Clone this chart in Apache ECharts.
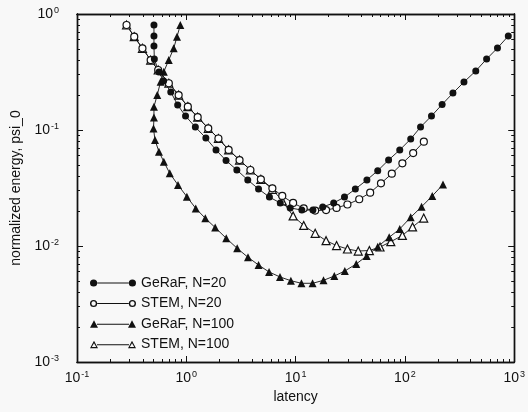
<!DOCTYPE html>
<html>
<head>
<meta charset="utf-8">
<script src="https://cdn.jsdelivr.net/npm/echarts@6/dist/echarts.min.js"></script>
<style>
  html, body { margin: 0; padding: 0; background: #f8f8f8; }
  #chart { width: 528px; height: 412px; }
</style>
</head>
<body>
<div id="chart"></div>
<script>
// values (latency, normalized energy)
const geraf20X = [0.506, 0.506, 0.506, 0.51, 0.562, 0.62, 0.721, 0.834, 0.984, 1.21, 1.51, 1.87, 2.31, 2.90, 3.65, 4.58, 5.76, 7.24, 8.92, 11.4, 14.4, 17.7, 22.3, 28.0, 35.2, 44.9, 56.4, 70.9, 89.7, 113, 139, 175, 219, 275, 347, 445, 559, 703, 883];
const geraf20Y = [0.804, 0.646, 0.530, 0.409, 0.316, 0.265, 0.213, 0.164, 0.132, 0.106, 0.0853, 0.0673, 0.0546, 0.0452, 0.0371, 0.0310, 0.0264, 0.0235, 0.0213, 0.0204, 0.0204, 0.0217, 0.0235, 0.0264, 0.0310, 0.0371, 0.0446, 0.0551, 0.0673, 0.0836, 0.106, 0.132, 0.166, 0.208, 0.259, 0.323, 0.409, 0.509, 0.646];

const stem20X = [0.284, 0.334, 0.397, 0.472, 0.553, 0.692, 0.851, 1.033, 1.271, 1.588, 1.967, 2.44, 3.07, 3.86, 4.81, 6.13, 7.55, 9.49, 11.86, 15.1, 19.0, 23.7, 29.8, 38.2, 48.1, 60.4, 75.9, 94.8, 119, 149];
const stem20Y = [0.804, 0.637, 0.506, 0.401, 0.329, 0.253, 0.200, 0.159, 0.129, 0.1034, 0.0845, 0.0673, 0.0551, 0.0452, 0.0376, 0.0314, 0.0270, 0.0235, 0.0211, 0.0202, 0.0204, 0.0213, 0.0228, 0.0253, 0.0288, 0.0347, 0.0420, 0.0516, 0.0633, 0.0793];

const geraf100X = [0.882, 0.822, 0.767, 0.691, 0.623, 0.582, 0.542, 0.506, 0.506, 0.501, 0.517, 0.562, 0.623, 0.706, 0.839, 1.012, 1.220, 1.493, 1.837, 2.32, 2.92, 3.67, 4.58, 5.72, 7.20, 9.05, 11.3, 14.3, 18.0, 22.6, 28.2, 35.9, 44.7, 56.4, 71.8, 89.7, 113, 142, 178, 223];
const geraf100Y = [0.804, 0.637, 0.506, 0.401, 0.318, 0.261, 0.200, 0.159, 0.128, 0.103, 0.0820, 0.0650, 0.0533, 0.0423, 0.0336, 0.0266, 0.0211, 0.01733, 0.01443, 0.01165, 0.00955, 0.00799, 0.00686, 0.00597, 0.00541, 0.00502, 0.00477, 0.00477, 0.00506, 0.00551, 0.00609, 0.00700, 0.00820, 0.00986, 0.01189, 0.01402, 0.01768, 0.0218, 0.0270, 0.0339];

const stem100X = [0.284, 0.334, 0.397, 0.472, 0.553, 0.692, 0.851, 1.033, 1.271, 1.588, 1.967, 2.44, 3.07, 3.86, 4.81, 6.13, 7.55, 9.49, 11.86, 15.1, 19.0, 23.7, 29.8, 37.4, 47.3, 59.2, 74.3, 94.8, 117.5, 148.6];
const stem100Y = [0.804, 0.637, 0.506, 0.401, 0.329, 0.253, 0.200, 0.159, 0.129, 0.1034, 0.0845, 0.0673, 0.0551, 0.0452, 0.0376, 0.0308, 0.0245, 0.01815, 0.01503, 0.01286, 0.01111, 0.01009, 0.00942, 0.00905, 0.00914, 0.00980, 0.01089, 0.01233, 0.01459, 0.01742];

const seriesNames = ["GeRaF, N=20", "STEM, N=20", "GeRaF, N=100", "STEM, N=100"];

// axis ticks
const xMajor = [0.1, 1, 10, 100, 1000];
const yMajor = [0.001, 0.01, 0.1, 1];

function minorsOf(majors) {
  const out = [];
  for (let i = 0; i < majors.length - 1; i++) {
    for (let k = 2; k <= 9; k++) out.push(k * majors[i]);
  }
  return out;
}
const xMinor = minorsOf(xMajor);
const yMinor = minorsOf(yMajor);

function pairs(xs, ys) {
  return xs.map((x, i) => [x, ys[i]]);
}

const chart = echarts.init(document.getElementById("chart"));

const font = "Liberation Sans";
const powLabel = (v) => "{b|10}{e|" + Math.round(Math.log10(v)) + "}";
const rich = {
  b: { fontFamily: font, fontSize: 14, color: "#111" },
  e: { fontFamily: font, fontSize: 9, color: "#111", verticalAlign: "top", padding: [0, 0, 7, 1] },
};

function axis(dim, pos, ticks, len, opts) {
  return Object.assign({
    type: "log",
    position: pos,
    min: dim === "x" ? 0.1 : 0.001,
    max: dim === "x" ? 1000 : 1,
    axisLine: { show: true, onZero: false, lineStyle: { color: "#111", width: 1.4 } },
    axisTick: { show: true, inside: true, length: len, customValues: ticks, lineStyle: { color: "#111", width: 1 } },
    axisLabel: { show: false },
    splitLine: { show: false },
  }, opts || {});
}

// legend icons: line with a marker at each end
const R = "A3.6,3.6 0 1,0 ";
const Ri = "A2.2,2.2 0 1,1 ";
const lineBar = "M7,4.5 L39,4.5 L39,5.5 L7,5.5 Z ";
const dot = (cx) => "M" + (cx - 3.6) + ",5 " + R + (cx + 3.6) + ",5 " + R + (cx - 3.6) + ",5 Z ";
const hole = (cx) => "M" + (cx - 2.2) + ",5 " + Ri + (cx + 2.2) + ",5 " + Ri + (cx - 2.2) + ",5 Z ";
const tri = (cx) => "M" + cx + ",1 L" + (cx + 4) + ",8.6 L" + (cx - 4) + ",8.6 Z ";
const triHole = (cx) => "M" + cx + ",3.6 L" + (cx - 2.2) + ",7.4 L" + (cx + 2.2) + ",7.4 Z ";
const icons = [
  "path://" + dot(3.6) + lineBar + dot(42.4),
  "path://" + dot(3.6) + hole(3.6) + lineBar + dot(42.4) + hole(42.4),
  "path://" + tri(4) + lineBar + tri(42),
  "path://" + tri(4) + triHole(4) + lineBar + tri(42) + triHole(42),
];

function line(name, data, symbol, size, open) {
  return {
    name: name,
    type: "line",
    data: data,
    symbol: symbol,
    symbolSize: size,
    showSymbol: true,
    lineStyle: { color: "#111", width: 0.9 },
    itemStyle: open
      ? { color: "#fff", borderColor: "#111", borderWidth: 1.2 }
      : { color: "#111", borderWidth: 0 },
    emphasis: { disabled: true },
  };
}

const option = {
  backgroundColor: "#f8f8f8",
  animation: false,
  grid: { left: 77, right: 8, top: 14, bottom: 50, containLabel: false },
  legend: {
    orient: "vertical",
    left: 90,
    top: 275,
    padding: 0,
    itemWidth: 46,
    itemHeight: 8,
    itemGap: 4.5,
    textStyle: { fontFamily: font, fontSize: 14, color: "#111", lineHeight: 16 },
    data: seriesNames.map((n, i) => ({
      name: n,
      icon: icons[i],
      itemStyle: { color: "#111", borderWidth: 0 },
    })),
  },
  xAxis: [
    axis("x", "bottom", xMajor, 6, {
      name: "latency",
      nameLocation: "middle",
      nameGap: 28,
      nameTextStyle: { fontFamily: font, fontSize: 14, color: "#111" },
      axisLabel: { show: true, margin: 8, customValues: xMajor, formatter: powLabel, rich: rich },
    }),
    axis("x", "bottom", xMinor, 3),
    axis("x", "top", xMajor, 6),
    axis("x", "top", xMinor, 3),
  ],
  yAxis: [
    axis("y", "left", yMajor, 6, {
      name: "normalized energy, psi_0",
      nameLocation: "middle",
      nameGap: 52,
      nameTextStyle: { fontFamily: font, fontSize: 14, color: "#111" },
      axisLabel: { show: true, margin: 18, customValues: yMajor, formatter: powLabel, rich: rich },
    }),
    axis("y", "left", yMinor, 3),
    axis("y", "right", yMajor, 6),
    axis("y", "right", yMinor, 3),
  ],
  series: [
    line(seriesNames[3], pairs(stem100X, stem100Y), "triangle", 8, true),
    line(seriesNames[2], pairs(geraf100X, geraf100Y), "triangle", 8, false),
    line(seriesNames[1], pairs(stem20X, stem20Y), "circle", 7, true),
    line(seriesNames[0], pairs(geraf20X, geraf20Y), "circle", 7, false),
  ],
};

chart.setOption(option);
</script>
</body>
</html>
